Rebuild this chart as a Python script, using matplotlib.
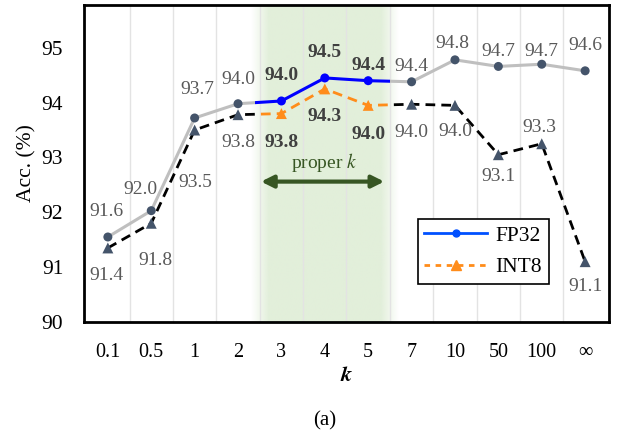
import numpy as np
import matplotlib
matplotlib.use("Agg")
import matplotlib.pyplot as plt
from matplotlib.patches import Rectangle

plt.rcParams['font.family'] = ['Liberation Serif', 'DejaVu Serif']
plt.rcParams['mathtext.fontset'] = 'stix'

categories = ["0.1", "0.5", "1", "2", "3", "4", "5", "7", "10", "50", "100", "∞"]
fp32 = [91.55, 92.03, 93.72, 93.98, 94.03, 94.45, 94.40, 94.38, 94.78, 94.66, 94.70, 94.58]
int8 = [91.35, 91.80, 93.50, 93.78, 93.80, 94.25, 93.95, 93.97, 93.95, 93.05, 93.25, 91.10]
fp32_labels = ["91.6", "92.0", "93.7", "94.0", "94.0", "94.5", "94.4", "94.4", "94.8", "94.7", "94.7", "94.6"]
int8_labels = ["91.4", "91.8", "93.5", "93.8", "93.8", "94.3", "94.0", "94.0", "94.0", "93.1", "93.3", "91.1"]
proper = [4, 5, 6]  # indices of k = 3, 4, 5

# label offsets in pixels (dx, dy)
fp32_off = [(-1, 25), (-11, 21), (3, 28), (0, 24), (0, 25), (0, 25), (0, 15), (0, 15), (-3, 16), (0, 15), (0, 13), (0, 25)]
int8_off = [(-1, -28), (4, -37), (1, -52), (0, -28), (0, -29), (0, -28), (0, -29), (0, -28), (0, -26), (0, -22), (-2, 16), (0, -25)]

slate = '#44546A'
blue = '#0000FF'
orange = '#FF8C1A'
green = '#375623'

fig = plt.figure(figsize=(6.21, 4.32), dpi=100)
ax = fig.add_axes([84/621, (432-322)/432, (609-84)/621, (322-5)/432])
x = np.arange(len(categories))
ax.set_xlim(-0.55, len(categories) - 0.45)
ax.set_ylim(90, 95.78)

# green shaded band with soft edges
xs = np.linspace(0, 1, 300)
alpha = np.clip(np.minimum(xs, 1 - xs) / 0.12, 0, 1)
img = np.zeros((1, 300, 4))
img[..., 0] = 0xE2 / 255
img[..., 1] = 0xEF / 255
img[..., 2] = 0xDA / 255
img[..., 3] = alpha
ax.imshow(img, extent=(3.3, 6.7, 90, 95.78), aspect='auto', zorder=0, interpolation='bilinear')

# vertical gridlines between categories
for g in np.arange(0.5, len(categories) - 1, 1.0):
    ax.axvline(g, color='#E3E3E3', lw=1.0, zorder=0.5)

L, R = 3.4, 6.5
def clip(line, x0, x1):
    r = Rectangle((x0, 80), x1 - x0, 30, transform=ax.transData)
    line.set_clip_path(r)

# FP32 gray outside, blue inside
l1, = ax.plot(x, fp32, color='#BFBFBF', lw=2.2, zorder=2)
clip(l1, -5, L)
l2, = ax.plot(x, fp32, color='#BFBFBF', lw=2.2, zorder=2)
clip(l2, R, 20)
l3, = ax.plot(x, fp32, color=blue, lw=2.2, zorder=2)
clip(l3, L, R)

# INT8 black dashed outside, orange dashed inside
d1, = ax.plot(x, int8, color='black', lw=2.0, ls=(0, (3.5, 2.2)), zorder=2)
clip(d1, -5, L)
d2, = ax.plot(x, int8, color='black', lw=2.0, ls=(0, (3.5, 2.2)), zorder=2)
clip(d2, R, 20)
d3, = ax.plot(x, int8, color=orange, lw=2.0, ls=(0, (3.5, 2.2)), zorder=2)
clip(d3, L, R)

# markers
mfp = [blue if i in proper else slate for i in x]
mint = [orange if i in proper else slate for i in x]
ax.scatter(x, fp32, s=42, c=mfp, marker='o', zorder=3, linewidths=0)
ax.scatter(x, int8, s=62, c=mint, marker='^', zorder=3, linewidths=0)

# value labels
for i in x:
    b = i in proper
    kw = dict(fontsize=14, ha='center', va='center',
              color='#404040' if b else '#595959',
              fontweight='bold' if b else 'normal')
    ax.annotate(fp32_labels[i], (i, fp32[i]), xytext=fp32_off[i], textcoords='offset pixels', **kw)
    ax.annotate(int8_labels[i], (i, int8[i]), xytext=int8_off[i], textcoords='offset pixels', **kw)

# proper k arrow
ax.annotate('', xy=(3.53, 92.56), xytext=(6.37, 92.56),
            arrowprops=dict(arrowstyle='<|-|>', color=green, lw=3, mutation_scale=18, shrinkA=0, shrinkB=0))
ax.text(5.0, 92.9, 'proper $k$', color=green, fontsize=14, ha='center', va='center')

# legend
h1, = ax.plot([], [], color='#0050FF', lw=2, marker='o', ms=5)
h2, = ax.plot([], [], color=orange, lw=2, ls=(0, (2, 2)), marker='^', ms=7)
leg = ax.legend([h1, h2], ['FP32', 'INT8'], loc='upper left', bbox_to_anchor=((418-84)/525, (322-219)/317),
                fontsize=15.5, frameon=True, fancybox=False, edgecolor='black', framealpha=1,
                handlelength=2.9, borderpad=0.3, labelspacing=0.55, handletextpad=0.4, borderaxespad=0)
leg.get_frame().set_linewidth(1.2)

ax.set_xticks(x)
ax.set_xticklabels(categories)
ax.set_yticks([90, 91, 92, 93, 94, 95])
ax.tick_params(axis='both', length=0, colors='black')
ax.tick_params(axis='x', labelsize=14.5, pad=15)
ax.tick_params(axis='y', labelsize=15.5, pad=15)
ax.set_ylabel('Acc. (%)', fontsize=15.5, labelpad=4)
ax.set_xlabel('$\\boldsymbol{k}$', fontsize=16, labelpad=4)
for s in ax.spines.values():
    s.set_linewidth(2)
    s.set_color('black')

fig.text(325/621, (432-421)/432, '(a)', ha='center', va='center', fontsize=15)

fig.savefig('out.png', dpi=100)
